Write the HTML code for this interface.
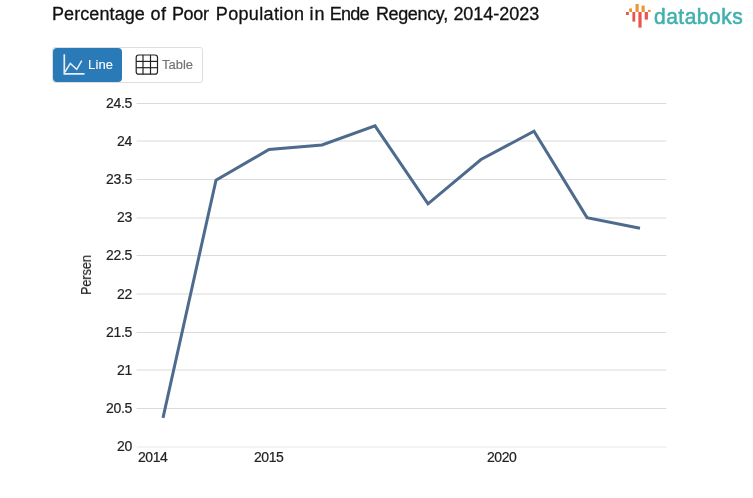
<!DOCTYPE html>
<html>
<head>
<meta charset="utf-8">
<title>Percentage of Poor Population in Ende Regency, 2014-2023</title>
<style>
html,body{margin:0;padding:0;background:#fff;}
body{width:753px;height:498px;position:relative;overflow:hidden;font-family:"Liberation Sans",sans-serif;color:#222;}
.abs{position:absolute;white-space:nowrap;will-change:transform;}
#title span{position:absolute;top:0;}
#title{width:500px;height:22px;left:52px;top:3px;font-size:18px;line-height:22px;color:#111;letter-spacing:0.09px;-webkit-text-stroke:0.3px #111;}
#logo-text{left:653.6px;top:2.6px;font-size:21px;line-height:26px;font-weight:normal;color:#41b0ae;letter-spacing:0.5px;-webkit-text-stroke:0.55px #41b0ae;transform:scaleY(1.07);transform-origin:50% 17%;}
#tabs{left:52px;top:47px;width:149px;height:34px;border:1px solid #ddd;border-radius:3px;background:#fff;}
#btn-line{left:53px;top:48px;width:69px;height:34px;background:#2a7ab7;border-radius:4px;}
#lbl-line{left:88.2px;top:57px;font-size:13px;line-height:15px;color:#fff;letter-spacing:0.15px;-webkit-text-stroke:0.1px #fff;}
#lbl-table{left:162px;top:57px;font-size:13px;line-height:15px;color:#727272;-webkit-text-stroke:0.15px #727272;}
.yl{width:40px;text-align:right;left:91.5px;font-size:14px;line-height:16px;color:#222;letter-spacing:-0.3px;-webkit-text-stroke:0.2px #222;}
.xl{font-size:14px;line-height:16px;color:#222;top:449px;letter-spacing:-0.45px;-webkit-text-stroke:0.2px #222;}
#persen{left:86.2px;top:274.8px;font-size:14px;line-height:14px;color:#222;-webkit-text-stroke:0.2px #222;transform:translate(-50%,-50%) rotate(-90deg) scaleX(0.9);transform-origin:center center;}
svg{position:absolute;left:0;top:0;}
</style>
</head>
<body>
<div id="title" class="abs"><span style="left:0px;letter-spacing:0.090px">Percentage </span><span style="left:98.6px;letter-spacing:0.390px">of </span><span style="left:119.9px;letter-spacing:-0.280px">Poor </span><span style="left:163.80px;letter-spacing:0.350px">Population </span><span style="left:257.60px;letter-spacing:0.790px">in </span><span style="left:277.70px;letter-spacing:-0.740px">Ende </span><span style="left:323.9px;letter-spacing:-0.350px">Regency, </span><span style="left:401.4px;letter-spacing:-0.035px">2014-2023</span></div>

<svg width="753" height="498" viewBox="0 0 753 498">
  <!-- logo bars -->
  <g id="logo-bars">
    <rect x="629.2" y="8.4" width="2.8" height="3.6" fill="#ea963a"/>
    <rect x="635.5" y="4" width="3.2" height="8" fill="#ea963a"/>
    <rect x="641.5" y="5.6" width="3.2" height="6.4" fill="#ea963a"/>
    <rect x="647.9" y="9.8" width="2.8" height="2.2" fill="#ea963a"/>
    <rect x="626" y="12" width="2.8" height="3" fill="#e8564b"/>
    <rect x="632.4" y="12" width="2.8" height="9.6" fill="#e8564b"/>
    <rect x="638.4" y="12" width="3.2" height="15.6" fill="#e8564b"/>
    <rect x="644.7" y="12" width="3.2" height="7.6" fill="#e8564b"/>
  </g>
  <!-- gridlines -->
  <g stroke="#dadada" stroke-width="1">
    <line x1="136.6" x2="666.3" y1="103.5" y2="103.5"/>
    <line x1="136.6" x2="666.3" y1="141.0" y2="141.0"/>
    <line x1="136.6" x2="666.3" y1="179.5" y2="179.5"/>
    <line x1="136.6" x2="666.3" y1="218.0" y2="218.0"/>
    <line x1="136.6" x2="666.3" y1="255.5" y2="255.5"/>
    <line x1="136.6" x2="666.3" y1="294.0" y2="294.0"/>
    <line x1="136.6" x2="666.3" y1="332.5" y2="332.5"/>
    <line x1="136.6" x2="666.3" y1="370.0" y2="370.0"/>
    <line x1="136.6" x2="666.3" y1="408.5" y2="408.5"/>
    <line x1="136.6" x2="666.3" y1="447.0" y2="447.0" stroke="#e8e8e8"/>
  </g>
  <!-- data line -->
  <polyline fill="none" stroke="#4e6a8d" stroke-width="3" stroke-linejoin="miter" stroke-linecap="butt"
    points="163,417.9 216,180.1 269,149.5 322,144.9 375,125.8 428,203.8 481,159.5 534,131.2 587,217.6 640,228.3"/>
</svg>

<div id="tabs" class="abs"></div>
<div id="btn-line" class="abs"></div>
<svg width="753" height="498" viewBox="0 0 753 498">
  <!-- line icon -->
  <g fill="none" stroke="#e6eef6">
    <polyline stroke-width="1.7" points="64.3,54.3 64.3,73.8 84.5,73.8"/>
    <polyline stroke-width="1.5" points="65.0,72.0 70.3,63.4 76.7,69.3 81.8,60.7"/>
  </g>
  <!-- table icon -->
  <g fill="none" stroke="#222" stroke-width="1.2">
    <rect x="136.2" y="55" width="21.3" height="19.2" rx="2.5" ry="2.5"/>
    <line x1="143.0" x2="143.0" y1="55" y2="74.2"/>
    <line x1="150.5" x2="150.5" y1="55" y2="74.2"/>
    <line x1="136.2" x2="157.5" y1="61.4" y2="61.4"/>
    <line x1="136.2" x2="157.5" y1="67.7" y2="67.7"/>
  </g>
</svg>
<div id="lbl-line" class="abs">Line</div>
<div id="lbl-table" class="abs">Table</div>
<div id="logo-text" class="abs">databoks</div>

<div class="abs yl" style="top:95px">24.5</div>
<div class="abs yl" style="top:133px">24</div>
<div class="abs yl" style="top:171px">23.5</div>
<div class="abs yl" style="top:209px">23</div>
<div class="abs yl" style="top:247px">22.5</div>
<div class="abs yl" style="top:286px">22</div>
<div class="abs yl" style="top:324px">21.5</div>
<div class="abs yl" style="top:362px">21</div>
<div class="abs yl" style="top:400px">20.5</div>
<div class="abs yl" style="top:438px">20</div>

<div class="abs xl" style="left:138px">2014</div>
<div class="abs xl" style="left:254px">2015</div>
<div class="abs xl" style="left:487px">2020</div>

<div id="persen" class="abs">Persen</div>
</body>
</html>
